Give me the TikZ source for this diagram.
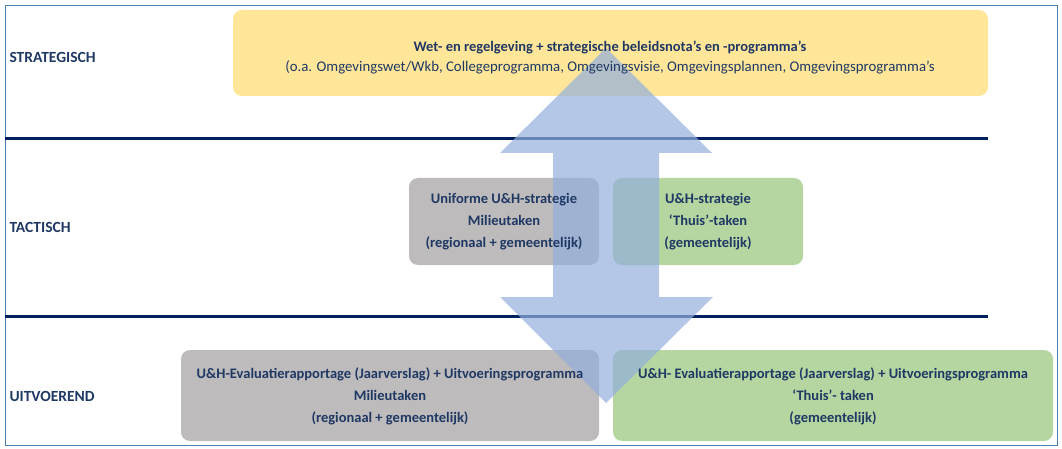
\documentclass[tikz,border=0pt]{standalone}
\usepackage{fontspec}
\setmainfont{Carlito}
\begin{document}
\begin{tikzpicture}[x=1pt,y=-1pt,
  txt/.style={text=navy,font=\fontsize{14.5}{22}\selectfont\bfseries,align=center},
  lab/.style={text=navy,font=\fontsize{15.5}{18}\selectfont\bfseries,anchor=west},
  box/.style={rounded corners=9pt,draw=none}]
\definecolor{navy}{HTML}{1F3864}
\definecolor{line}{HTML}{002060}
\definecolor{yel}{HTML}{FFE699}
\definecolor{gry}{HTML}{BDBBBB}
\definecolor{grn}{HTML}{B5D6A0}
\definecolor{arr}{RGB}{148,175,221}
\definecolor{frame}{HTML}{4A7FB0}
\useasboundingbox (0,0) rectangle (1062,449);
\draw[frame,line width=0.8pt] (5,5) rectangle (1057,445);
\fill[yel,box] (233,10) rectangle (988,96);
\fill[gry,box] (409,178) rectangle (599,265);
\fill[grn,box] (613,178) rectangle (803,265);
\fill[gry,box] (181,350) rectangle (599,441);
\fill[grn,box] (613,350) rectangle (1053,441);
\draw[line,line width=3pt] (5,139) -- (988,139);
\draw[line,line width=3pt] (5,316) -- (988,316);
\fill[arr,opacity=0.7] (606,48) -- (712,153) -- (659,153) -- (659,297) -- (713,297) -- (606,403) -- (500,297) -- (553,297) -- (553,153) -- (500,153) -- cycle;
\node[lab] (s) at (6,57) {STRATEGISCH};
\node[lab] (t) at (6,227) {TACTISCH};
\node[lab] (u) at (6,396) {UITVOEREND};
\node[txt] (a) at (610,57) {Wet- en regelgeving + strategische beleidsnota’s en -programma’s\\[-2pt]{\mdseries\fontsize{14.8}{15}\selectfont (o.a. Omgevingswet/Wkb, Collegeprogramma, Omgevingsvisie, Omgevingsplannen, Omgevingsprogramma’s}};
\node[txt] (b) at (504,222) {Uniforme U\&H-strategie\\Milieutaken\\(regionaal + gemeentelijk)};
\node[txt] (c) at (708,222) {U\&H-strategie\\‘Thuis’-taken\\(gemeentelijk)};
\node[txt] (d) at (390,396) {U\&H-Evaluatierapportage (Jaarverslag) + Uitvoeringsprogramma\\Milieutaken\\(regionaal + gemeentelijk)};
\node[txt] (e) at (833,396) {U\&H- Evaluatierapportage (Jaarverslag) + Uitvoeringsprogramma\\‘Thuis’- taken\\(gemeentelijk)};
\end{tikzpicture}
\end{document}
